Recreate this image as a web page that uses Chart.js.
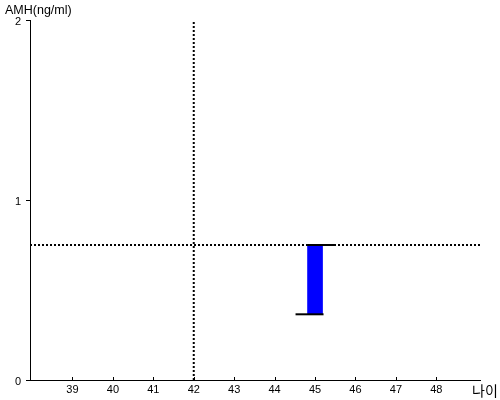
<!DOCTYPE html>
<html>
<head>
<meta charset="utf-8">
<script src="https://cdn.jsdelivr.net/npm/chart.js@4/dist/chart.umd.min.js"></script>
<style>
html,body{margin:0;padding:0;background:#fff;}
#wrap{width:500px;height:400px;}
</style>
</head>
<body>
<div id="wrap"><canvas id="c" width="500" height="400"></canvas></div>
<script>
// ---- data ----
const ages = [45];
const amhLow = [0.365];
const amhHigh = [0.75];
const refAge = 42;
const refAMH = 0.75;
const xTicks = [39, 40, 41, 42, 43, 44, 45, 46, 47, 48];
const yTicks = [0, 1, 2];
const xMin = 37.95, xMax = 49.08;
const yMin = 0, yMax = 2;
const yTitle = 'AMH(ng/ml)';
const xTitle = '나이';

const barData = ages.map((a, i) => ({x: a, y: [amhLow[i], amhHigh[i]]}));

const capsPlugin = {
  id: 'caps',
  afterDatasetsDraw(chart) {
    const ctx = chart.ctx;
    const meta = chart.getDatasetMeta(0);
    const ys = chart.scales.y;
    ctx.save();
    ctx.strokeStyle = '#000';
    ctx.lineWidth = 2;
    meta.data.forEach((bar, i) => {
      const yLow = ys.getPixelForValue(amhLow[i]);
      const yHigh = ys.getPixelForValue(amhHigh[i]);
      const half = bar.width / 2;
      ctx.beginPath();
      ctx.moveTo(bar.x - half - 12, yLow);
      ctx.lineTo(bar.x + half + 1, yLow);
      ctx.stroke();
      ctx.beginPath();
      ctx.moveTo(bar.x - half - 1, yHigh);
      ctx.lineTo(bar.x + half + 12, yHigh);
      ctx.stroke();
    });
    ctx.restore();
  },
  afterDraw(chart) {
    const ctx = chart.ctx;
    const xs = chart.scales.x;
    const bottom = chart.chartArea.bottom;
    ctx.save();
    // small inward tick marks on the x axis
    ctx.strokeStyle = '#000';
    ctx.lineWidth = 1;
    xTicks.forEach(v => {
      const px = Math.round(xs.getPixelForValue(v)) + 0.5;
      ctx.beginPath();
      ctx.moveTo(px, bottom);
      ctx.lineTo(px, bottom - 3);
      ctx.stroke();
    });
    ctx.fillStyle = '#000';
    ctx.textBaseline = 'middle';
    ctx.textAlign = 'left';
    ctx.font = '12.5px "Liberation Sans", Arial, sans-serif';
    ctx.fillText(yTitle, 5, 11);
    ctx.font = '14px "Noto Sans CJK KR", sans-serif';
    ctx.fillText(xTitle, 472, 391);
    ctx.restore();
  }
};

new Chart(document.getElementById('c'), {
  type: 'bar',
  data: {
    datasets: [
      {
        type: 'bar',
        data: barData,
        backgroundColor: '#0000ff',
        borderWidth: 0,
        barThickness: 15,
        order: 0
      },
      {
        type: 'line',
        data: [{x: refAge, y: yMin}, {x: refAge, y: yMax}],
        borderColor: '#000',
        borderWidth: 2,
        borderDash: [2, 2],
        pointRadius: 0,
        fill: false,
        order: 1
      },
      {
        type: 'line',
        data: [{x: xMin, y: refAMH}, {x: xMax, y: refAMH}],
        borderColor: '#000',
        borderWidth: 2,
        borderDash: [2, 2],
        pointRadius: 0,
        fill: false,
        order: 1
      }
    ]
  },
  options: {
    responsive: false,
    animation: false,
    layout: {padding: {top: 20, right: 20, left: 0, bottom: 0}},
    plugins: {legend: {display: false}, tooltip: {enabled: false}},
    scales: {
      x: {
        type: 'linear',
        min: xMin,
        max: xMax,
        offset: false,
        afterBuildTicks: s => { s.ticks = xTicks.map(v => ({value: v})); },
        afterFit: s => { s.height = 20; },
        grid: {display: false, drawTicks: false},
        border: {display: true, color: '#000', width: 1},
        ticks: {
          color: '#000',
          padding: 3,
          maxRotation: 0,
          autoSkip: false,
          font: {family: '"Liberation Sans", Arial, sans-serif', size: 11}
        }
      },
      y: {
        type: 'linear',
        min: yMin,
        max: yMax,
        afterBuildTicks: s => { s.ticks = yTicks.map(v => ({value: v})); },
        afterFit: s => { s.width = 30; },
        grid: {display: true, drawOnChartArea: false, drawTicks: true, tickLength: 4, color: '#000'},
        border: {display: true, color: '#000', width: 1},
        ticks: {
          color: '#000',
          padding: 5,
          labelOffset: 1.5,
          font: {family: '"Liberation Sans", Arial, sans-serif', size: 11}
        }
      }
    }
  },
  plugins: [capsPlugin]
});
</script>
</body>
</html>
